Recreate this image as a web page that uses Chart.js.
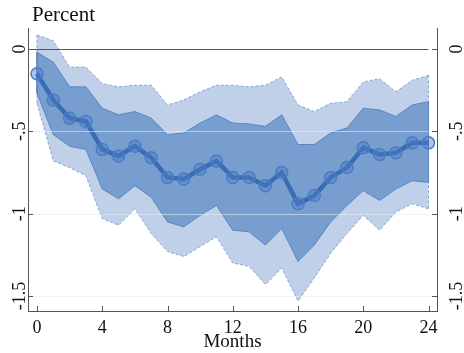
<!DOCTYPE html>
<html><head><meta charset="utf-8">
<script src="https://cdn.jsdelivr.net/npm/chart.js@4.4.0/dist/chart.umd.min.js"></script>
<style>html,body{margin:0;padding:0;background:#fff;overflow:hidden;} #wrap{width:464px;height:353px;position:relative;}</style>
</head><body><div id="wrap"><canvas id="c" width="464" height="353"></canvas></div>
<script>
const months = [0,1,2,3,4,5,6,7,8,9,10,11,12,13,14,15,16,17,18,19,20,21,22,23,24];
const central    = [-0.15,-0.31,-0.42,-0.44,-0.61,-0.65,-0.59,-0.66,-0.78,-0.79,-0.73,-0.68,-0.78,-0.78,-0.83,-0.75,-0.94,-0.89,-0.78,-0.72,-0.60,-0.64,-0.63,-0.57,-0.57];
const innerUpper = [-0.02,-0.08,-0.23,-0.23,-0.36,-0.40,-0.38,-0.42,-0.52,-0.51,-0.45,-0.40,-0.45,-0.455,-0.47,-0.40,-0.58,-0.58,-0.51,-0.48,-0.36,-0.37,-0.41,-0.34,-0.32];
const innerLower = [-0.27,-0.52,-0.59,-0.61,-0.85,-0.91,-0.83,-0.90,-1.05,-1.08,-1.01,-0.95,-1.10,-1.11,-1.19,-1.09,-1.29,-1.19,-1.05,-0.95,-0.86,-0.92,-0.85,-0.80,-0.81];
const outerUpper = [0.085,0.05,-0.11,-0.11,-0.21,-0.23,-0.22,-0.22,-0.34,-0.31,-0.26,-0.22,-0.22,-0.23,-0.22,-0.17,-0.34,-0.38,-0.33,-0.32,-0.20,-0.18,-0.26,-0.19,-0.16];
const outerLower = [-0.33,-0.68,-0.72,-0.77,-1.03,-1.07,-0.97,-1.12,-1.23,-1.26,-1.20,-1.14,-1.30,-1.32,-1.43,-1.33,-1.53,-1.39,-1.24,-1.12,-1.01,-1.10,-0.99,-0.94,-0.97];
const xTickValues = [0,4,8,12,16,20,24];
const yTickValues = [0,-0.5,-1,-1.5];
const yTickLabels = ['0','-.5','-1','-1.5'];
const yTitle = 'Percent';
const xTitle = 'Months';

const FONT = "'Liberation Serif', 'Times New Roman', serif";
const pts = arr => months.map((m,i)=>({x:m,y:arr[i]}));
const last = months.length-1;
const edge = (u,l,i) => [{x:months[i],y:u[i]},{x:months[i],y:l[i]}];

const decor = {
  id:'decor',
  afterDatasetsDraw(chart){
    const {ctx, chartArea:a, scales} = chart;
    const x = scales.x, y = scales.y;
    ctx.save();
    ctx.lineWidth = 1.2;
    ctx.strokeStyle = 'rgba(226,238,240,0.6)';
    yTickValues.filter(v=>v!==0).forEach(v=>{
      const py = Math.round(y.getPixelForValue(v))+0.5;
      ctx.beginPath(); ctx.moveTo(a.left,py); ctx.lineTo(a.right,py); ctx.stroke();
    });
    ctx.lineWidth = 1;
    ctx.strokeStyle = '#555';
    const z = Math.round(y.getPixelForValue(0))+0.5;
    ctx.beginPath(); ctx.moveTo(a.left,z); ctx.lineTo(x.getPixelForValue(months[last]),z); ctx.stroke();
    // inward ticks
    yTickValues.forEach(v=>{
      const py = Math.round(y.getPixelForValue(v))+0.5;
      ctx.beginPath(); ctx.moveTo(a.left,py); ctx.lineTo(a.left+5,py); ctx.stroke();
      ctx.beginPath(); ctx.moveTo(a.right,py); ctx.lineTo(a.right-5,py); ctx.stroke();
    });
    xTickValues.forEach(v=>{
      const px = Math.round(x.getPixelForValue(v))+0.5;
      ctx.beginPath(); ctx.moveTo(px,a.bottom); ctx.lineTo(px,a.bottom-5); ctx.stroke();
    });
    ctx.restore();
  },
  afterDraw(chart){
    const {ctx, chartArea:a, scales} = chart;
    const y = scales.y;
    ctx.save();
    ctx.fillStyle = '#111';
    ctx.font = "18px " + FONT;
    ctx.textAlign = 'center';
    ctx.textBaseline = 'alphabetic';
    yTickValues.forEach((v,i)=>{
      const py = y.getPixelForValue(v);
      ctx.save(); ctx.translate(a.left-3, py); ctx.rotate(-Math.PI/2); ctx.fillText(yTickLabels[i],0,0); ctx.restore();
      ctx.save(); ctx.translate(a.right+25, py); ctx.rotate(-Math.PI/2); ctx.fillText(yTickLabels[i],0,0); ctx.restore();
    });
    ctx.font = "21px " + FONT;
    ctx.textAlign = 'left';
    ctx.fillText(yTitle, a.left+4, 21);
    ctx.restore();
  }
};

new Chart(document.getElementById('c'), {
  type:'line',
  data:{ datasets:[
    {label:'Estimate', data:pts(central), borderColor:'#3a6cb3', borderWidth:4.5, pointRadius:6, pointHoverRadius:6,
     pointBackgroundColor:'rgba(75,125,200,0.45)', pointBorderColor:'#4a7cc2', pointBorderWidth:1.5, fill:false, order:0},
    {label:'innerUpper', data:pts(innerUpper), borderColor:'#5a85c4', borderWidth:1, pointRadius:0, fill:false, order:1},
    {label:'innerLower', data:pts(innerLower), borderColor:'#5a85c4', borderWidth:1, pointRadius:0, fill:1, backgroundColor:'#789ecf', order:1},
    {label:'outerUpper', data:pts(outerUpper), borderColor:'#86a7d6', borderWidth:1, borderDash:[3,2], pointRadius:0, fill:false, order:2},
    {label:'outerLower', data:pts(outerLower), borderColor:'#86a7d6', borderWidth:1, borderDash:[3,2], pointRadius:0, fill:3, backgroundColor:'#c0d0e8', order:2},
    {label:'oL', data:edge(outerUpper,outerLower,0), borderColor:'#86a7d6', borderWidth:1, borderDash:[3,2], pointRadius:0, fill:false, order:1.5},
    {label:'oR', data:edge(outerUpper,outerLower,last), borderColor:'#86a7d6', borderWidth:1, borderDash:[3,2], pointRadius:0, fill:false, order:1.5},
    {label:'iL', data:edge(innerUpper,innerLower,0), borderColor:'#5a85c4', borderWidth:1, pointRadius:0, fill:false, order:0.5},
    {label:'iR', data:edge(innerUpper,innerLower,last), borderColor:'#5a85c4', borderWidth:1, pointRadius:0, fill:false, order:0.5}
  ]},
  options:{
    responsive:false, animation:false, devicePixelRatio:1,
    layout:{padding:{top:28,left:0,right:0,bottom:0}},
    plugins:{legend:{display:false}, tooltip:{enabled:false}},
    elements:{line:{tension:0}},
    scales:{
      x:{type:'linear', min:-0.552, max:24.52,
         afterBuildTicks: s => { s.ticks = xTickValues.map(v=>({value:v})); },
         afterFit: s => { s.height = 42; },
         grid:{display:false, drawTicks:false},
         border:{display:true, color:'#555', width:1},
         ticks:{font:{family:FONT,size:18}, color:'#111', padding:6, maxRotation:0, callback:v=>String(v)},
         title:{display:true, text:xTitle, font:{family:FONT,size:19}, color:'#111', padding:{top:0,bottom:0}}
      },
      y:{type:'linear', position:'left', min:-1.591, max:0.1275,
         afterFit: s => { s.width = 28; },
         grid:{display:false, drawTicks:false},
         border:{display:true, color:'#555', width:1},
         ticks:{display:false}
      },
      y2:{type:'linear', position:'right', min:-1.591, max:0.1275,
         afterFit: s => { s.width = 27; },
         grid:{display:false, drawTicks:false},
         border:{display:true, color:'#555', width:1},
         ticks:{display:false}
      }
    }
  },
  plugins:[decor]
});
</script>
</body></html>
